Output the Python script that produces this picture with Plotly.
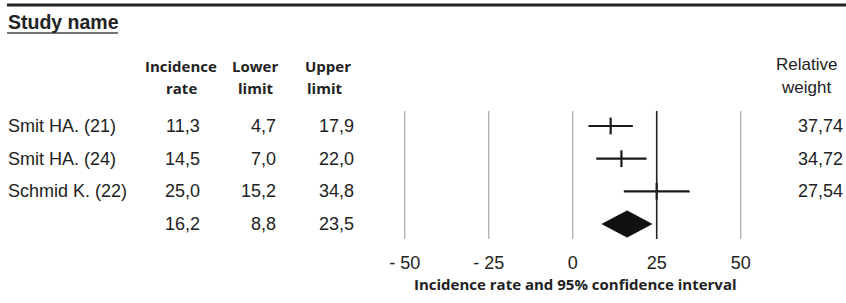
import plotly.graph_objects as go

# ---- data ----
studies = ["Smit HA. (21)", "Smit HA. (24)", "Schmid K. (22)"]
rate = [11.3, 14.5, 25.0]
lower = [4.7, 7.0, 15.2]
upper = [17.9, 22.0, 34.8]
weight = ["37,74", "34,72", "27,54"]
summary = {"rate": 16.2, "lower": 8.8, "upper": 23.5}
tick_vals = [-50, -25, 0, 25, 50]
tick_text = ["- 50", "- 25", "0", "25", "50"]


def fmt(v):
    return f"{v:.1f}".replace(".", ",")


W, H = 846, 303
PLOT_H = 250  # plot area height in px (top margin 0)

REG = "Liberation Sans, Arial, sans-serif"
HDR = "Open Sans, sans-serif"
TXT = "#222222"

rows = list(range(len(studies)))
sum_row = len(studies)


def px(x):
    return x / W


def py(y):
    return 1 - y / PLOT_H


fig = go.Figure()

# reference vertical lines
for v in tick_vals:
    fig.add_shape(type="line", x0=v, x1=v, y0=-0.46, y1=sum_row + 0.46,
                  xref="x", yref="y",
                  line=dict(color="#222222" if v == 25 else "#b4b4b4",
                            width=1.6 if v == 25 else 1.4))

# study CIs
fig.add_trace(go.Scatter(
    x=rate, y=rows, mode="markers",
    marker=dict(symbol="line-ns", size=12, line=dict(width=2.2, color="#1a1a1a"), color="#1a1a1a"),
    error_x=dict(type="data", symmetric=False,
                 array=[u - r for u, r in zip(upper, rate)],
                 arrayminus=[r - l for r, l in zip(rate, lower)],
                 width=0, thickness=2.2, color="#1a1a1a"),
    showlegend=False, hoverinfo="skip"))

# summary diamond
h = 0.4
fig.add_trace(go.Scatter(
    x=[summary["lower"], summary["rate"], summary["upper"], summary["rate"], summary["lower"]],
    y=[sum_row, sum_row - h, sum_row, sum_row + h, sum_row],
    mode="lines", fill="toself", fillcolor="#111111",
    line=dict(color="#111111", width=1), showlegend=False, hoverinfo="skip"))

ann = []


def add(text, x, y, font, size, xanchor="left", bold=False, yref="paper"):
    ann.append(dict(text=f"<b>{text}</b>" if bold else text, x=x, y=y,
                    xref="paper", yref=yref, xanchor=xanchor, yanchor="middle",
                    showarrow=False, font=dict(family=font, size=size, color=TXT)))


# headers
add("Study name", px(6), py(22), REG, 19.5, bold=True)
add("Incidence", px(181), py(66), HDR, 15, "center", True)
add("rate", px(181), py(88), HDR, 15, "center", True)
add("Lower", px(255), py(66), HDR, 15, "center", True)
add("limit", px(255), py(88), HDR, 15, "center", True)
add("Upper", px(303), py(66), HDR, 15, "left", True)
add("limit", px(305), py(88), HDR, 15, "left", True)
add("Relative", px(806), py(64), REG, 17, "center")
add("weight", px(806), py(87), REG, 17, "center")

# table rows
for i, s in enumerate(studies):
    add(s, px(6), i, REG, 18, yref="y")
    add(fmt(rate[i]), px(202), i, REG, 18, "right", yref="y")
    add(fmt(lower[i]), px(278), i, REG, 18, "right", yref="y")
    add(fmt(upper[i]), px(356), i, REG, 18, "right", yref="y")
    add(weight[i], px(845), i, REG, 18, "right", yref="y")
add(fmt(summary["rate"]), px(202), sum_row, REG, 18, "right", yref="y")
add(fmt(summary["lower"]), px(278), sum_row, REG, 18, "right", yref="y")
add(fmt(summary["upper"]), px(356), sum_row, REG, 18, "right", yref="y")

# axis title
add("Incidence rate and 95% confidence interval", px(575), py(284), HDR, 15, "center", True)

# top rule and underline
fig.add_shape(type="line", xref="paper", yref="paper", x0=px(7), x1=1, y0=py(5), y1=py(5),
              line=dict(color="#222222", width=3))
fig.add_shape(type="line", xref="paper", yref="paper", x0=px(7), x1=px(118), y0=py(33), y1=py(33),
              line=dict(color="#444444", width=1.3))

x0_px = 572.7
scale = 3.36
fig.update_layout(
    width=W, height=H,
    margin=dict(l=0, r=0, t=0, b=H - PLOT_H),
    paper_bgcolor="white", plot_bgcolor="white",
    annotations=ann,
    xaxis=dict(range=[-x0_px / scale, (W - x0_px) / scale], showgrid=False, zeroline=False,
               showline=False, tickvals=tick_vals, ticktext=tick_text, ticks="",
               tickfont=dict(family=REG, size=18, color=TXT)),
    yaxis=dict(range=[(PLOT_H - 126) / 32.67, -126 / 32.67], showgrid=False, zeroline=False,
               showline=False, showticklabels=False, ticks=""),
)

fig.write_html("out.html", config={"displayModeBar": False},
               post_script="document.body.style.margin='0';document.body.style.overflow='hidden';")
